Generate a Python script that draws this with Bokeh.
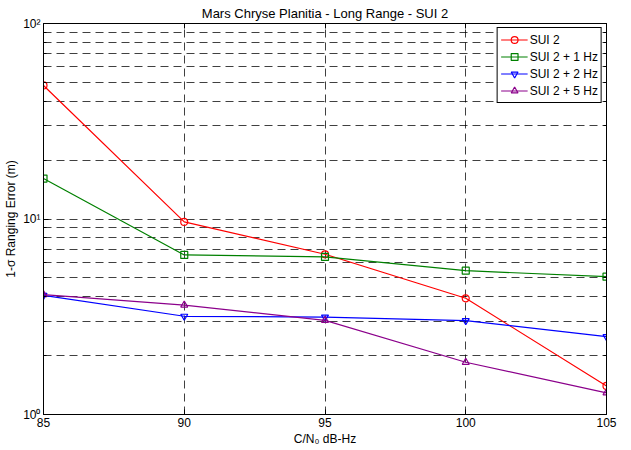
from bokeh.plotting import figure
from bokeh.models import (FixedTicker, LinearAxis, LogAxis, Legend, LegendItem,
                          CustomJSTickFormatter, Range1d)
from bokeh.embed import file_html
from bokeh.resources import INLINE

cn0 = [85, 90, 95, 100, 105]
sui2 = [48.2, 9.66, 6.6, 3.93, 1.40]
sui2_1hz = [16.1, 6.55, 6.4, 5.44, 5.07]
sui2_2hz = [4.07, 3.18, 3.15, 3.02, 2.50]
sui2_5hz = [4.1, 3.63, 3.03, 1.85, 1.29]

series_names = ["SUI 2", "SUI 2 + 1 Hz", "SUI 2 + 2 Hz", "SUI 2 + 5 Hz"]
series_vals = [sui2, sui2_1hz, sui2_2hz, sui2_5hz]
colors = ["#FF0000", "#008000", "#0000FF", "#8B008B"]
markers = ["circle", "square", "inverted_triangle", "triangle"]

x_ticks = [85, 90, 95, 100, 105]
y_major = [1, 10, 100]
y_minor = [2, 3, 4, 5, 6, 7, 8, 9, 20, 30, 40, 50, 60, 70, 80, 90]

FONT = "Liberation Sans"

p = figure(width=631, height=450, y_axis_type="log",
           x_range=Range1d(85, 105), y_range=Range1d(1, 100),
           output_backend="svg", toolbar_location=None,
           title="Mars Chryse Planitia - Long Range - SUI 2",
           min_border_left=43, min_border_right=25, min_border_top=23,
           min_border_bottom=36)

p.title.align = "center"
p.title.text_font = FONT
p.title.text_font_size = "13px"
p.title.text_font_style = "normal"
p.title.text_color = "black"
p.title.offset = 0
p.title.standoff = 6

p.outline_line_color = "black"
p.outline_line_alpha = 1
p.background_fill_color = "white"
p.border_fill_color = "white"

sup = CustomJSTickFormatter(code="""
const s = {'0':'\u2070','1':'\u00b9','2':'\u00b2','3':'\u00b3','-':'\u207b'};
const e = Math.round(Math.log10(tick));
return '10' + String(e).split('').map(c => s[c]).join('');
""")

yt = FixedTicker(ticks=y_major, minor_ticks=y_minor)
xt = FixedTicker(ticks=x_ticks)

p.xaxis.ticker = xt
p.yaxis.ticker = yt
p.yaxis.formatter = sup

for ax in [p.xaxis[0], p.yaxis[0]]:
    ax.axis_line_color = "black"
    ax.major_tick_in = 5
    ax.major_tick_out = 0
    ax.minor_tick_in = 3
    ax.minor_tick_out = 0
    ax.major_tick_line_color = "black"
    ax.minor_tick_line_color = "black"
    ax.major_label_text_font = FONT
    ax.major_label_text_font_size = "12px"
    ax.major_label_text_color = "black"
    ax.axis_label_text_font = FONT
    ax.axis_label_text_font_size = "12px"
    ax.axis_label_text_font_style = "normal"
    ax.axis_label_text_color = "black"
    ax.major_label_standoff = 3
    ax.axis_label_standoff = 2

p.xaxis.axis_label = "C/N\u2080 dB-Hz"
p.yaxis.axis_label = "1-\u03c3 Ranging Error (m)"

top = LinearAxis(ticker=FixedTicker(ticks=x_ticks), major_label_text_color=None,
                 major_label_text_font_size="1px",
                 major_tick_in=5, major_tick_out=0, minor_tick_in=0, minor_tick_out=0,
                 major_label_standoff=0, axis_line_color="black")
right = LogAxis(ticker=FixedTicker(ticks=y_major, minor_ticks=y_minor),
                major_label_text_color=None, major_label_text_font_size="1px",
                major_tick_in=5, major_tick_out=0, minor_tick_in=3, minor_tick_out=0,
                major_label_standoff=0, axis_line_color="black")
p.add_layout(top, "above")
p.add_layout(right, "right")

p.xgrid.ticker = xt
p.ygrid.ticker = yt
for g in [p.xgrid[0], p.ygrid[0]]:
    g.grid_line_color = "black"
    g.grid_line_alpha = 0.75
    g.grid_line_dash = "8 5"
    g.grid_line_width = 1
p.ygrid.minor_grid_line_color = "black"
p.ygrid.minor_grid_line_alpha = 0.75
p.ygrid.minor_grid_line_dash = "8 5"

items = []
for name, vals, c, m in zip(series_names, series_vals, colors, markers):
    r1 = p.line(cn0, vals, line_color=c, line_width=1.2)
    r2 = p.scatter(cn0, vals, marker=m, size=7, line_color=c, fill_alpha=0, line_width=1.2)
    items.append(LegendItem(label=name, renderers=[r1, r2]))

leg = Legend(items=items, location="top_right")
leg.label_text_font = FONT
leg.label_text_font_size = "12px"
leg.label_text_color = "black"
leg.border_line_color = "black"
leg.border_line_alpha = 1
leg.background_fill_alpha = 1
leg.margin = 4
leg.padding = 3
leg.spacing = 0
leg.glyph_height = 17
leg.label_height = 17
leg.glyph_width = 27
leg.label_standoff = 2
p.add_layout(leg, "center")

open("out.html", "w").write(file_html(p, INLINE))
